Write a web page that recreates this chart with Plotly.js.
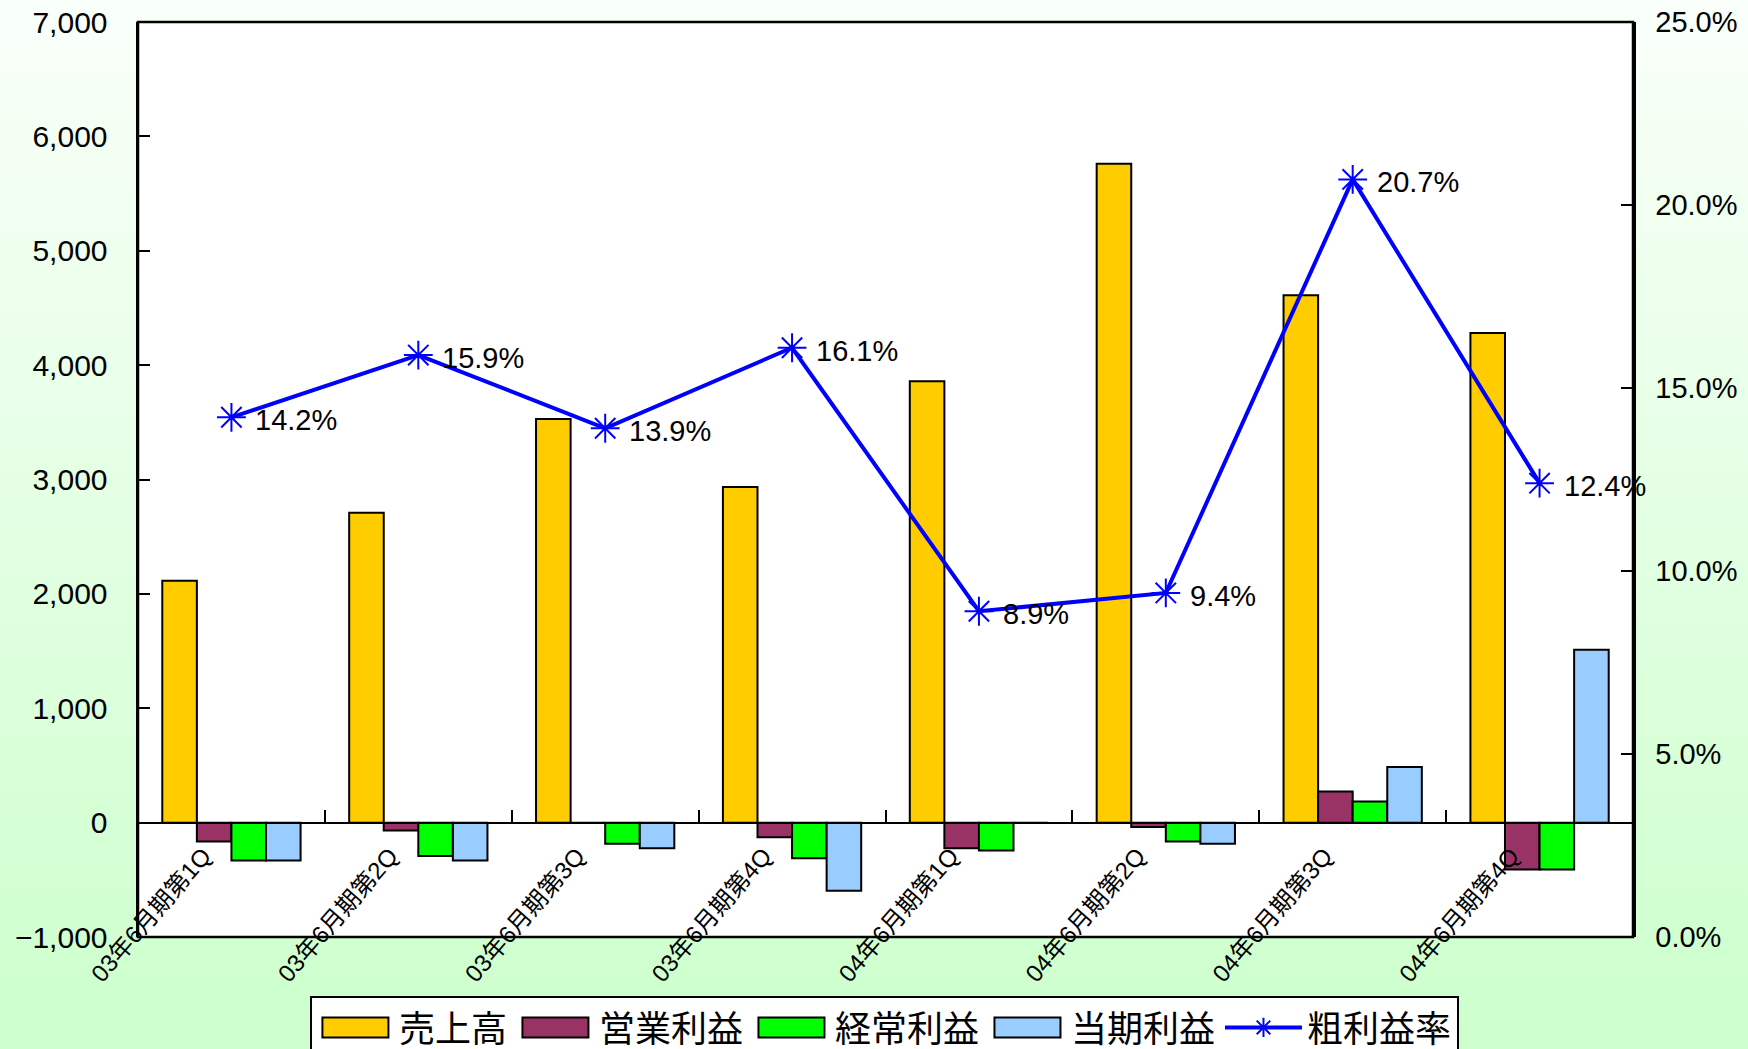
<!DOCTYPE html>
<html>
<head>
<meta charset="utf-8">
<script src="https://cdn.plot.ly/plotly-3.0.1.min.js"></script>
<style>
  html, body { margin: 0; padding: 0; }
  body { width: 1748px; height: 1049px; overflow: hidden;
         background: linear-gradient(to bottom, #FAFFFA 0%, #CCFFCC 100%); }
  #chart { width: 1748px; height: 1049px; }
</style>
</head>
<body>
<div id="chart"></div>
<script>
const categories = ['03年6月期第1Q','03年6月期第2Q','03年6月期第3Q','03年6月期第4Q',
                    '04年6月期第1Q','04年6月期第2Q','04年6月期第3Q','04年6月期第4Q'];
const sales        = [2115, 2710, 3530, 2935, 3860, 5760, 4610, 4280];   // 売上高
const opProfit     = [-165, -68, 0, -127, -224, -39, 273, -410];        // 営業利益
const ordProfit    = [-332, -292, -185, -312, -244, -166, 185, -410];   // 経常利益
const netProfit    = [-332, -332, -224, -595, 0, -185, 487, 1511];      // 当期利益
const grossMargin  = [14.2, 15.9, 13.9, 16.1, 8.9, 9.4, 20.7, 12.4];    // 粗利益率 (%)

const seriesNames = ['売上高','営業利益','経常利益','当期利益','粗利益率'];
const barColors = ['#FFCC00','#993366','#00FF00','#99CCFF'];
const FONT = 'Liberation Sans, Arial, "Noto Sans CJK JP", sans-serif';

const barSeries = [sales, opProfit, ordProfit, netProfit];
const traces = barSeries.map((vals, i) => ({
  type: 'bar',
  name: seriesNames[i],
  x: categories,
  y: vals,
  marker: { color: barColors[i], line: { color: '#000000', width: 2 } },
  hoverinfo: 'x+y'
}));

traces.push({
  type: 'scatter',
  mode: 'lines+markers',
  name: seriesNames[4],
  x: categories,
  y: grossMargin,
  yaxis: 'y2',
  line: { color: '#0000FF', width: 4 },
  marker: { symbol: 'asterisk-open', size: 24, color: '#0000FF', line: { color: '#0000FF', width: 2 } },
  cliponaxis: false
});

const marginLabels = categories.map((c, i) => ({
  x: c, y: grossMargin[i], xref: 'x', yref: 'y2',
  text: grossMargin[i].toFixed(1) + '%',
  showarrow: false, xanchor: 'left', yanchor: 'middle',
  xshift: 22, yshift: -3,
  font: { family: FONT, size: 29, color: '#000000' }
}));

const layout = {
  width: 1748,
  height: 1049,
  paper_bgcolor: 'rgba(0,0,0,0)',
  plot_bgcolor: '#FFFFFF',
  margin: { l: 138, r: 115, t: 22, b: 112, autoexpand: false },
  font: { family: FONT, color: '#000000' },
  barmode: 'group',
  bargap: 0.26,
  bargroupgap: 0,
  showlegend: true,
  legend: {
    orientation: 'h',
    x: 0.115, xanchor: 'left',
    y: -0.064, yanchor: 'top',
    bgcolor: '#FFFFFF',
    bordercolor: '#000000',
    borderwidth: 2,
    font: { family: FONT, size: 36, color: '#000000' },
    itemwidth: 77,
    traceorder: 'normal'
  },
  xaxis: {
    type: 'category',
    range: [-0.5, 7.5],
    anchor: 'free',
    position: 0.125,
    showline: true,
    linecolor: '#000000',
    linewidth: 2.5,
    ticks: 'inside',
    tickson: 'boundaries',
    ticklen: 12,
    tickwidth: 2,
    tickcolor: '#000000',
    tickangle: -49,
    ticklabelshift: -28,
    ticklabelstandoff: 8,
    tickfont: { family: FONT, size: 24, color: '#000000' },
    showgrid: false,
    zeroline: false
  },
  yaxis: {
    range: [-1000, 7000],
    dtick: 1000,
    tickformat: ',d',
    showline: true,
    linecolor: '#000000',
    linewidth: 2.5,
    ticks: 'inside',
    ticklen: 12,
    tickwidth: 2,
    tickcolor: '#000000',
    ticklabelstandoff: 22,
    tickfont: { family: FONT, size: 30, color: '#000000' },
    showgrid: false,
    zeroline: false
  },
  yaxis2: {
    overlaying: 'y',
    side: 'right',
    range: [0, 25],
    dtick: 5,
    tickformat: '.1f',
    ticksuffix: '%',
    showline: true,
    linecolor: '#000000',
    linewidth: 2.5,
    ticks: 'inside',
    ticklen: 12,
    tickwidth: 2,
    tickcolor: '#000000',
    ticklabelstandoff: 14,
    tickfont: { family: FONT, size: 29, color: '#000000' },
    showgrid: false,
    zeroline: false
  },
  annotations: marginLabels,
  shapes: [{
    type: 'rect', xref: 'paper', yref: 'paper', x0: 0, x1: 1, y0: 0, y1: 1,
    line: { color: '#000000', width: 2.5 }, fillcolor: 'rgba(0,0,0,0)', layer: 'above'
  }]
};

function widenLegendSwatches() {
  document.querySelectorAll('#chart g.legendpoints path').forEach(p => {
    const d = p.getAttribute('d') || '';
    if (d.replace(/\s/g, '') === 'M6,6H-6V-6H6Z') {
      p.setAttribute('d', 'M33,10H-33V-10H33Z');
      p.style.strokeWidth = '2px';
    }
  });
}

Plotly.newPlot('chart', traces, layout, { displayModeBar: false, staticPlot: true })
  .then(widenLegendSwatches);
</script>
</body>
</html>
